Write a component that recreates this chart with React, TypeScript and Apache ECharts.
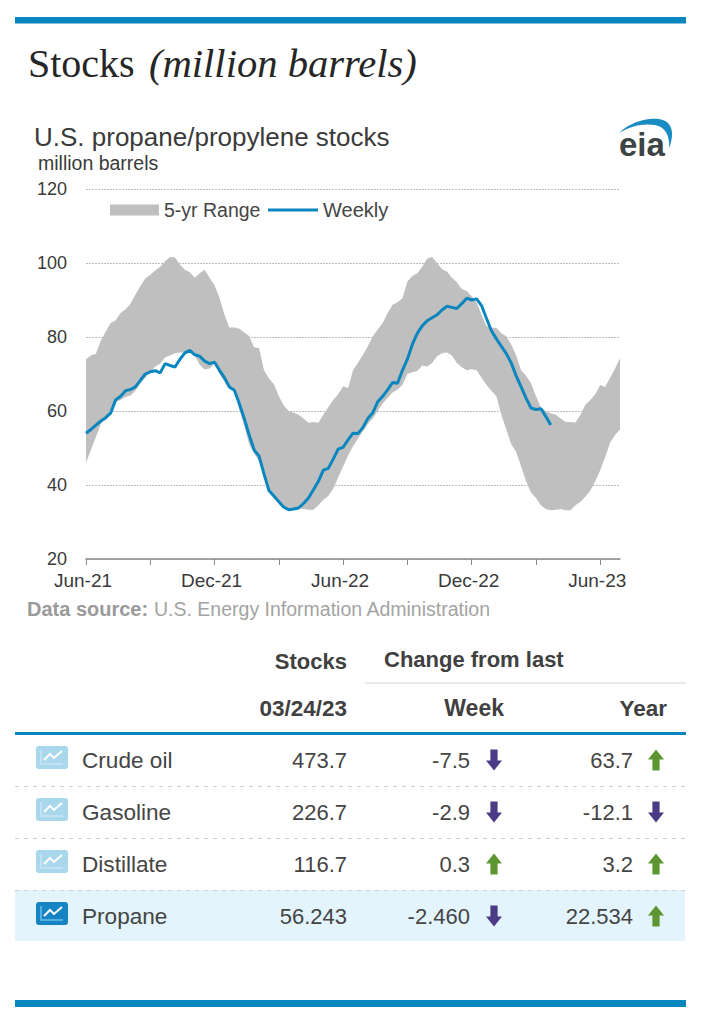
import React, { useEffect, useRef } from "react";
import * as echarts from "echarts";

const tickLabels = ["Jun-21", "Dec-21", "Jun-22", "Dec-22", "Jun-23"];

const upper = [74, 75, 75.5, 79, 81.5, 83.8, 84.5, 86.5, 87.5, 89, 91.5, 93.8, 95.8, 96.8, 98, 99, 100.5, 101.6, 101.5, 99.5, 98.2, 97.5, 96, 97.2, 98.2, 96, 94, 90.6, 86, 82.6, 82.6, 82.2, 81.2, 80.3, 77.2, 77, 71, 68.8, 67.2, 64, 61.5, 60, 59.5, 59, 58, 56.8, 57, 56.8, 59, 61, 63, 64.5, 66.7, 66.2, 71, 73, 75.2, 77.5, 80.2, 82, 83.8, 86.5, 88.7, 89.4, 90.5, 95, 96.5, 97.2, 99, 101.2, 101.6, 100, 98.3, 97.7, 96, 94.8, 93, 92.4, 91, 89.3, 86, 83, 82.6, 82.4, 81, 80.2, 78, 75, 71, 69.5, 67.5, 64, 61, 60, 59.3, 59, 58, 57, 57, 56.9, 59, 61.7, 63, 64.5, 67, 66.5, 69, 71.5, 74.3];
const lower = [46, 49.5, 53, 56.5, 58.3, 60.5, 62.5, 63, 63.8, 64.2, 65.5, 67.6, 69, 70.5, 72, 72.8, 74.5, 75, 75.6, 75.8, 75.8, 76, 75, 72.5, 71.2, 71.5, 72.8, 70, 68, 66, 65.5, 60.5, 56, 51, 48.5, 46.5, 42, 38, 37, 35.8, 34.5, 33.3, 33.5, 33.7, 33.5, 33.3, 33.3, 34.5, 36, 37, 39, 42, 45, 48, 50.5, 52.5, 54.5, 56.5, 58, 60, 62, 63.5, 65, 65.8, 67, 70, 70.5, 70.8, 72.3, 72, 73, 74.8, 75.6, 75.8, 75, 73, 71.8, 71, 71.3, 71, 69, 67, 65.5, 64, 59, 55, 51, 49, 45, 41, 38, 36.5, 34.5, 33.5, 33.2, 33.3, 33.5, 33.2, 33.2, 34.5, 35.5, 36.8, 38.5, 41, 44, 47.5, 51.5, 53.5, 55];
const weekly = [54, 55, 56.2, 57.3, 58.2, 59.5, 63, 64, 65.5, 65.8, 66.5, 68.3, 70, 70.6, 70.9, 70.3, 72.8, 72.3, 71.9, 74, 75.7, 76.4, 75.2, 74.8, 73.5, 72.8, 73.2, 71, 69, 66.5, 65.6, 62, 58, 53.5, 49.5, 47.8, 43, 38.5, 37, 35.5, 34, 33.3, 33.5, 33.8, 35, 36.5, 38.7, 41, 44, 44.5, 47, 49.7, 50.2, 52.2, 54, 53.9, 55.5, 58, 59.5, 62.5, 64, 65.7, 67.7, 67.5, 71, 74, 78, 81, 83, 84.4, 85.2, 86, 87.3, 88.3, 88, 87.7, 89, 90.5, 90, 90.3, 88.5, 85, 81.7, 79.5, 77.5, 75.5, 73, 69.5, 66.5, 63.5, 60.8, 60.4, 60.6, 58.5, 56.243];

const rowNames = ["Crude oil", "Gasoline", "Distillate", "Propane"];
const rowStocks = ["473.7", "226.7", "116.7", "56.243"];
const rowWeek = ["-7.5", "-2.9", "0.3", "-2.460"];
const rowYear = ["63.7", "-12.1", "3.2", "22.534"];

const BLUE = "#0a86bf";
const SANS = '"Liberation Sans", Arial, sans-serif';

const txt = (text: string, x: number, y: number, size: number, fill: string, align = "left", weight = "normal", family = SANS) => ({
  type: "text",
  x,
  y,
  silent: true,
  style: { text, fill, font: `${weight} ${size}px ${family}`, textAlign: align, textVerticalAlign: "middle" },
});

const rect = (x: number, y: number, width: number, height: number, fill: string, r = 0) => ({
  type: "rect",
  silent: true,
  shape: { x, y, width, height, r },
  style: { fill },
});

const hline = (x1: number, x2: number, y: number, stroke: string, dash?: number[]) => ({
  type: "line",
  silent: true,
  shape: { x1, y1: y, x2, y2: y },
  style: { stroke, lineWidth: 1, lineDash: dash },
});

const arrow = (cx: number, cy: number, up: boolean) => {
  const d = up ? 1 : -1;
  return {
    type: "polygon",
    silent: true,
    shape: {
      points: [
        [cx, cy - 10.5 * d],
        [cx + 8, cy - 0.5 * d],
        [cx + 3.6, cy - 0.5 * d],
        [cx + 3.6, cy + 10.5 * d],
        [cx - 3.6, cy + 10.5 * d],
        [cx - 3.6, cy - 0.5 * d],
        [cx - 8, cy - 0.5 * d],
      ],
    },
    style: { fill: up ? "#5b9630" : "#4b3a86" },
  };
};

const rowIcon = (y: number, active: boolean) => [
  rect(36, y - 12, 32, 23, active ? "#1583c4" : "#a9d7ec", 3),
  {
    type: "polyline",
    silent: true,
    shape: { points: [[41, y - 8], [41, y + 6], [63, y + 6]] },
    style: { stroke: active ? "#6cc0e8" : "#c7e6f4", lineWidth: 1.5, fill: "none" },
  },
  {
    type: "polyline",
    silent: true,
    shape: { points: [[44, y + 2], [50, y - 4], [54, y], [62, y - 7]] },
    style: { stroke: "#ffffff", lineWidth: 2, fill: "none" },
  },
];

export default function App() {
  const ref = useRef<HTMLDivElement>(null);

  useEffect(() => {
    document.body.style.margin = "0";
    document.body.style.background = "#ffffff";
    echarts.graphic.registerShape(
      "eiaSwoosh",
      echarts.graphic.extendPath(
        "M619 133C630 122 650 116 663 120C672 123 675 134 669 148C670 135 665 127 655 125C643 123 630 126 619 133Z",
        {}
      ) as any
    );

    const chart = echarts.init(ref.current!, null, { renderer: "svg" });
    const categories = upper.map((_, i) => String(i));
    const rowY = [760, 812, 864, 916];

    const graphic: any[] = [
      rect(15, 17, 671, 6.5, BLUE),
      rect(15, 1000, 671, 7, BLUE),
      { type: "eiaSwoosh", x: 0, y: 0, scaleX: 1, scaleY: 1, silent: true, style: { fill: "#1a8cc4" } },
      txt("eia", 619, 144, 33, "#3d4446", "left", "bold"),
      txt("U.S. propane/propylene stocks", 34, 137, 26, "#3a3a3a"),
      txt("million barrels", 38, 163, 19.5, "#3a3a3a"),
      txt("Data source:", 27, 609, 20, "#9a9a9a", "left", "bold"),
      txt("U.S. Energy Information Administration", 154, 609, 19.5, "#a3a3a3"),
      {
        type: "text",
        x: 28,
        y: 63,
        silent: true,
        style: {
          text: "Stocks",
          fill: "#262626",
          font: '40px "Liberation Serif", serif',
          textVerticalAlign: "middle",
        },
      },
      {
        type: "text",
        x: 149,
        y: 63,
        silent: true,
        style: {
          text: "(million barrels)",
          fill: "#262626",
          font: 'italic 40.6px "Liberation Serif", serif',
          textVerticalAlign: "middle",
        },
      },
      txt("Stocks", 347, 661, 22, "#404040", "right", "bold"),
      txt("Change from last", 384, 659, 22, "#404040", "left", "bold"),
      hline(365, 686, 683, "#d4d4d4"),
      txt("03/24/23", 347, 708, 22.5, "#404040", "right", "bold"),
      txt("Week", 504, 708, 23, "#404040", "right", "bold"),
      txt("Year", 667, 708, 22.5, "#404040", "right", "bold"),
      rect(15, 732, 671, 3, BLUE),
      rect(15, 890, 670, 51, "#e3f4fc"),
      hline(15, 686, 786.5, "#cfcfcf", [4, 5]),
      hline(15, 686, 838.5, "#cfcfcf", [4, 5]),
      hline(15, 686, 890.5, "#cfcfcf", [4, 5]),
    ];

    rowNames.forEach((name, i) => {
      const y = rowY[i];
      graphic.push(...rowIcon(y - 2, i === 3));
      graphic.push(txt(name, 82, y, 22.6, "#454545"));
      graphic.push(txt(rowStocks[i], 347, y, 22, "#454545", "right"));
      graphic.push(txt(rowWeek[i], 470, y, 22, "#454545", "right"));
      graphic.push(txt(rowYear[i], 633, y, 22, "#454545", "right"));
      graphic.push(arrow(494, y, !rowWeek[i].startsWith("-")));
      graphic.push(arrow(656, y, !rowYear[i].startsWith("-")));
    });

    chart.setOption({
      animation: false,
      backgroundColor: "#ffffff",
      grid: { left: 86, width: 534, top: 189, height: 370 },
      legend: [
        {
          data: [{ name: "5-yr Range", icon: "rect" }],
          left: 110,
          top: 200,
          itemWidth: 49,
          itemHeight: 11,
          itemGap: 0,
          padding: 0,
          selectedMode: false,
          textStyle: { fontFamily: SANS, fontSize: 19.5, color: "#454545" },
        },
        {
          data: [{ name: "Weekly", icon: "rect" }],
          left: 268,
          top: 200,
          itemWidth: 50,
          itemHeight: 3,
          padding: 0,
          selectedMode: false,
          textStyle: { fontFamily: SANS, fontSize: 20, color: "#454545" },
        },
      ],
      xAxis: {
        type: "category",
        data: categories,
        boundaryGap: false,
        axisLine: { lineStyle: { color: "#8a8a8a", width: 1.5 } },
        axisTick: { length: 6, interval: (i: number) => i % 13 === 0, lineStyle: { color: "#8a8a8a" } },
        axisLabel: {
          interval: (i: number) => i % 26 === 0,
          formatter: (_: string, i: number) => tickLabels[i / 26] ?? "",
          fontFamily: SANS,
          fontSize: 19,
          color: "#3a3a3a",
          margin: 12,
          padding: [0, 6, 0, 0],
        },
        splitLine: { show: false },
      },
      yAxis: {
        type: "value",
        min: 20,
        max: 120,
        interval: 20,
        axisLine: { show: false },
        axisTick: { show: false },
        axisLabel: { fontFamily: SANS, fontSize: 18, color: "#3a3a3a", margin: 19 },
        splitLine: { lineStyle: { color: "#bdbdbd", type: [2, 1] } },
      },
      series: [
        {
          name: "lower",
          type: "line",
          stack: "band",
          data: lower,
          symbol: "none",
          lineStyle: { width: 0 },
          silent: true,
        },
        {
          name: "5-yr Range",
          type: "line",
          stack: "band",
          data: upper.map((u, i) => u - lower[i]),
          symbol: "none",
          lineStyle: { width: 0 },
          itemStyle: { color: "#bfbfbf" },
          areaStyle: { color: "#bfbfbf", opacity: 1 },
          silent: true,
        },
        {
          name: "Weekly",
          type: "line",
          data: weekly,
          symbol: "none",
          lineStyle: { color: BLUE, width: 3 },
          itemStyle: { color: BLUE },
          silent: true,
        },
      ],
      graphic,
    });

    return () => chart.dispose();
  }, []);

  return <div ref={ref} style={{ width: 715, height: 1024 }} />;
}
